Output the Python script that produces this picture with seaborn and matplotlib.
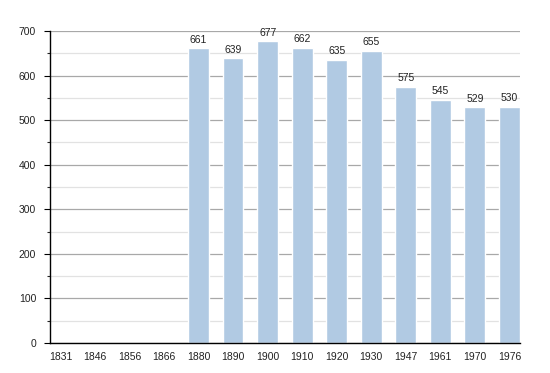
import matplotlib
matplotlib.use("Agg")
import matplotlib.pyplot as plt
import seaborn as sns
import numpy as np
import pandas as pd
from matplotlib.ticker import MultipleLocator

years = ["1831", "1846", "1856", "1866", "1880", "1890", "1900", "1910", "1920", "1930", "1947", "1961", "1970", "1976"]
population = [np.nan, np.nan, np.nan, np.nan, 661, 639, 677, 662, 635, 655, 575, 545, 529, 530]

df = pd.DataFrame({"year": years, "pop": population})

sns.set_style("white")
plt.rcParams['font.family'] = ['Liberation Sans', 'DejaVu Sans']

fig = plt.figure(figsize=(5.5, 3.73), dpi=100)
ax = fig.add_axes([0.091, 0.0804, 0.854, 0.8366])

ax.yaxis.set_major_locator(MultipleLocator(100))
ax.yaxis.set_minor_locator(MultipleLocator(50))
ax.grid(True, which="major", axis="y", color="#a8a8a8", linewidth=0.9)
ax.grid(True, which="minor", axis="y", color="#e2e2e2", linewidth=0.9)
ax.set_axisbelow(True)

sns.barplot(data=df, x="year", y="pop", color="#b1cae3", saturation=1, width=0.6, ax=ax, order=years)

for i, v in enumerate(population):
    if not np.isnan(v):
        ax.text(i, v + 8, f"{int(v)}", ha="center", va="bottom", fontsize=7.5, color="#222222")

ax.set_xlim(-0.3, 13.3)
ax.set_ylim(0, 700)
ax.set_xlabel("")
ax.set_ylabel("")
for s in ["top", "right"]:
    ax.spines[s].set_visible(False)
ax.spines["left"].set_color("black")
ax.spines["bottom"].set_color("black")
ax.spines["left"].set_linewidth(1)
ax.spines["bottom"].set_linewidth(1)
ax.tick_params(axis="y", which="major", left=True, length=4, width=0.8, labelsize=7.5, colors="black", pad=6)
ax.tick_params(axis="y", which="minor", left=True, length=2, width=0.8)
ax.tick_params(axis="x", bottom=False, labelsize=7.5, pad=3)
for t in ax.get_xticklabels() + ax.get_yticklabels():
    t.set_color("#222222")

fig.savefig("out.png", dpi=100)
